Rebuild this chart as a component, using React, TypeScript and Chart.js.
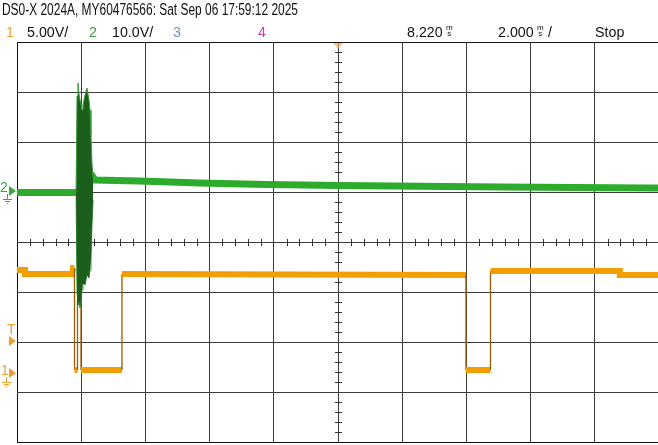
import React, { useEffect, useRef } from "react";
import { Chart, registerables } from "chart.js";
Chart.register(...registerables);

// ---- scope settings ----
const timePerDiv = 2; // ms/div
const timeCenter = 8.22; // ms at centre
const ch1VoltsPerDiv = 5;
const ch2VoltsPerDiv = 10;
const ch1GroundDiv = -2.62; // ground marker, divisions from centre
const ch2GroundDiv = 1.02;
const triggerLevel = 3.2; // V on ch1

// ---- channel 1 (orange) ----
const ch1Time = [-1.78, -1.53, -1.53, -0.067, -0.036, 0.011, 0.011, 0.105, 0.105, 0.214, 0.214, 1.49, 1.49, 12.207, 12.207, 12.97, 12.97, 17.0, 17.0, 18.3];
const ch1Volt = [10.3, 10.3, 9.9, 9.9, 10.5, 10.5, 0.3, 0.3, 7.3, 7.3, 0.3, 0.3, 9.9, 9.8, 0.3, 0.3, 10.2, 10.2, 9.8, 9.8];

// ---- channel 2 (green) ----
const ch2Time = [-1.78, 0.06, 0.56, 0.59, 0.65, 2.05, 3.9, 6.0, 8.28, 13.3, 17.94, 18.3];
const ch2Volt = [-0.3, -0.3, 2.6, 2.8, 2.2, 2.0, 1.6, 1.3, 1.1, 0.8, 0.6, 0.6];

// ---- channel 2 burst envelope ----
const burstTime = [0.06, 0.09, 0.12, 0.15, 0.183, 0.245, 0.276, 0.338, 0.4, 0.463, 0.495, 0.525, 0.556, 0.59];
const burstUpper = [-0.3, 19.0, 21.6, 19.5, 18.2, 16.2, 17.2, 19.2, 20.6, 18.2, 16.2, 11.2, 5.6, 2.6];
const burstLower = [-0.3, -20.0, -22.8, -21.8, -23.4, -19.8, -18.4, -18.8, -16.8, -17.4, -15.8, -13.8, -6.8, -1.8];

const ORANGE = "#f29d00";
const ORANGE_EDGE = "#9a5c00";
const GREEN = "#2cab2c";

const xMin = timeCenter - 5 * timePerDiv;
const xMax = timeCenter + 5 * timePerDiv;
const y1Min = (-4 - ch1GroundDiv) * ch1VoltsPerDiv;
const y1Max = (4 - ch1GroundDiv) * ch1VoltsPerDiv;
const y2Min = (-4 - ch2GroundDiv) * ch2VoltsPerDiv;
const y2Max = (4 - ch2GroundDiv) * ch2VoltsPerDiv;

const pts = (t: number[], v: number[]) => t.map((x, i) => ({ x, y: v[i] }));

const overlay = {
  id: "scopeOverlay",
  beforeDatasetsDraw(chart: any) {
    const { ctx } = chart;
    const xs = chart.scales.x;
    const gs = chart.scales.grid;
    const cx = xs.getPixelForValue(timeCenter);
    const cy = gs.getPixelForValue(0);
    ctx.save();
    ctx.strokeStyle = "#333";
    ctx.lineWidth = 1;
    ctx.beginPath();
    for (let k = -20; k <= 20; k++) {
      if (k % 5 === 0) continue;
      const y = Math.round(gs.getPixelForValue(k * 0.2)) + 0.5;
      ctx.moveTo(cx - 3, y);
      ctx.lineTo(cx + 4, y);
    }
    for (let j = 0; j <= 50; j++) {
      if (j % 5 === 0) continue;
      const x = Math.round(xs.getPixelForValue(xMin + j * timePerDiv * 0.2)) + 0.5;
      ctx.moveTo(x, cy - 3);
      ctx.lineTo(x, cy + 4);
    }
    ctx.stroke();
    ctx.restore();
  },
  afterDraw(chart: any) {
    const { ctx } = chart;
    const xs = chart.scales.x;
    const y1 = chart.scales.y1;
    const y2 = chart.scales.y2;
    ctx.save();
    const arrow = (y: number, color: string) => {
      ctx.fillStyle = color;
      ctx.beginPath();
      ctx.moveTo(9, y - 5);
      ctx.lineTo(16, y);
      ctx.lineTo(9, y + 5);
      ctx.closePath();
      ctx.fill();
    };
    const ground = (x: number, y: number, color: string) => {
      ctx.strokeStyle = color;
      ctx.lineWidth = 1;
      ctx.beginPath();
      ctx.moveTo(x + 0.5, y);
      ctx.lineTo(x + 0.5, y + 5);
      ctx.moveTo(x - 4, y + 5.5);
      ctx.lineTo(x + 5, y + 5.5);
      ctx.moveTo(x - 2, y + 7.5);
      ctx.lineTo(x + 3, y + 7.5);
      ctx.moveTo(x - 0, y + 9.5);
      ctx.lineTo(x + 1, y + 9.5);
      ctx.stroke();
    };
    ctx.font = "14px 'Liberation Sans', sans-serif";
    ctx.textBaseline = "middle";
    // channel 2 marker
    const g2 = y2.getPixelForValue(0);
    ctx.fillStyle = "#3aa83a";
    ctx.fillText("2", 0, g2 - 3);
    arrow(g2, "#3aa83a");
    ground(7, g2 + 3, "#3aa83a");
    // trigger marker
    const tl = y1.getPixelForValue(triggerLevel);
    ctx.fillStyle = "#e8a030";
    ctx.fillText("T", 7, tl - 11);
    arrow(tl, "#e8a030");
    // channel 1 marker
    const g1 = y1.getPixelForValue(0);
    ctx.fillStyle = "#e8a030";
    ctx.fillText("1", 1, g1 - 2);
    arrow(g1, "#e8a030");
    ground(6, g1 + 4, "#e8a030");
    // trigger position marker on top
    const tx = xs.getPixelForValue(timeCenter);
    const top = chart.chartArea.top;
    ctx.fillStyle = "rgba(245,170,80,0.7)";
    ctx.beginPath();
    ctx.moveTo(tx - 5, top + 1);
    ctx.lineTo(tx + 5, top + 1);
    ctx.lineTo(tx, top + 7);
    ctx.closePath();
    ctx.fill();
    ctx.restore();
  },
};

const hdrFont = "'Liberation Sans', Arial, sans-serif";

const T = (p: { x: number; y: number; s?: number; c?: string; sx?: number; children: any }) => (
  <span
    style={{
      position: "absolute",
      left: p.x,
      top: p.y,
      fontSize: p.s ?? 15,
      color: p.c ?? "#111",
      fontFamily: hdrFont,
      lineHeight: 1,
      whiteSpace: "nowrap",
      transform: `scaleX(${p.sx ?? 0.95})`,
      transformOrigin: "left top",
    }}
  >
    {p.children}
  </span>
);

const Ms = (p: { x: number; y: number }) => (
  <span style={{ position: "absolute", left: p.x, top: p.y, fontSize: 8, lineHeight: "6px", fontFamily: hdrFont, color: "#111", textAlign: "center" }}>
    m
    <br />s
  </span>
);

export default function App() {
  const ref = useRef<HTMLCanvasElement | null>(null);
  useEffect(() => {
    document.body.style.margin = "0";
    const canvas = ref.current!;
    const gridColor = (c: any) => (c.index === 0 || c.index === 10 || (c.scale.id === "grid" && c.index === 8) ? "#111" : "#3c3c3c");
    const chart = new Chart(canvas, {
      type: "line",
      data: {
        datasets: [
          {
            label: "burstUpper",
            data: pts(burstTime, burstUpper),
            yAxisID: "y2",
            borderColor: "#3c9a3c",
            borderWidth: 1,
            backgroundColor: "#1c5e1c",
            fill: "+1",
            pointRadius: 0,
            order: 0,
          },
          {
            label: "burstLower",
            data: pts(burstTime, burstLower),
            yAxisID: "y2",
            borderColor: "#3c9a3c",
            borderWidth: 1,
            fill: false,
            pointRadius: 0,
            order: 1,
          },
          {
            label: "ch2",
            data: pts(ch2Time, ch2Volt),
            yAxisID: "y2",
            borderColor: GREEN,
            borderWidth: 7,
            fill: false,
            pointRadius: 0,
            order: 2,
          },
          {
            label: "ch1",
            data: pts(ch1Time, ch1Volt),
            yAxisID: "y1",
            borderColor: ORANGE,
            borderWidth: 6,
            fill: false,
            pointRadius: 0,
            order: 3,
            segment: {
              borderWidth: (c: any) => (c.p0.parsed.x === c.p1.parsed.x && Math.abs(c.p0.parsed.y - c.p1.parsed.y) > 2 ? 1.3 : 6),
              borderColor: (c: any) => (c.p0.parsed.x === c.p1.parsed.x && Math.abs(c.p0.parsed.y - c.p1.parsed.y) > 2 ? ORANGE_EDGE : ORANGE),
            },
          },
        ],
      },
      options: {
        responsive: false,
        animation: false,
        events: [],
        layout: { padding: { left: 17, top: 42, right: 1, bottom: 3 } },
        plugins: { legend: { display: false }, tooltip: { enabled: false } },
        scales: {
          x: {
            type: "linear",
            min: xMin,
            max: xMax,
            afterBuildTicks: (s: any) => {
              s.ticks = Array.from({ length: 11 }, (_, k) => ({ value: xMin + k * timePerDiv }));
            },
            ticks: { display: false },
            grid: { color: gridColor, lineWidth: 1, drawTicks: false },
            border: { display: false },
          },
          grid: {
            type: "linear",
            position: "left",
            min: -4,
            max: 4,
            ticks: { display: false, stepSize: 1 },
            grid: { color: gridColor, lineWidth: 1, drawTicks: false },
            border: { display: false },
          },
          y1: { type: "linear", min: y1Min, max: y1Max, display: false },
          y2: { type: "linear", min: y2Min, max: y2Max, display: false },
        },
      },
      plugins: [overlay],
    } as any);
    return () => chart.destroy();
  }, []);
  return (
    <div style={{ position: "relative", width: 658, height: 445, overflow: "hidden", background: "#fff" }}>
      <canvas ref={ref} width={660} height={445} style={{ position: "absolute", left: 0, top: 0, width: 660, height: 445 }} />
      <T x={2} y={2} s={16} sx={0.746}>DS0-X 2024A, MY60476566: Sat Sep 06 17:59:12 2025</T>
      <T x={6} y={24} c="#e8a030">1</T>
      <T x={27} y={24}>5.00V/</T>
      <T x={89} y={24} c="#40a040">2</T>
      <T x={112} y={24}>10.0V/</T>
      <T x={173} y={24} c="#7090c0">3</T>
      <T x={258} y={24} c="#c040a0">4</T>
      <T x={407} y={24}>8.220</T>
      <Ms x={446} y={25} />
      <T x={498} y={24}>2.000</T>
      <Ms x={537} y={25} />
      <T x={548} y={24}>/</T>
      <T x={595} y={24}>Stop</T>
    </div>
  );
}
